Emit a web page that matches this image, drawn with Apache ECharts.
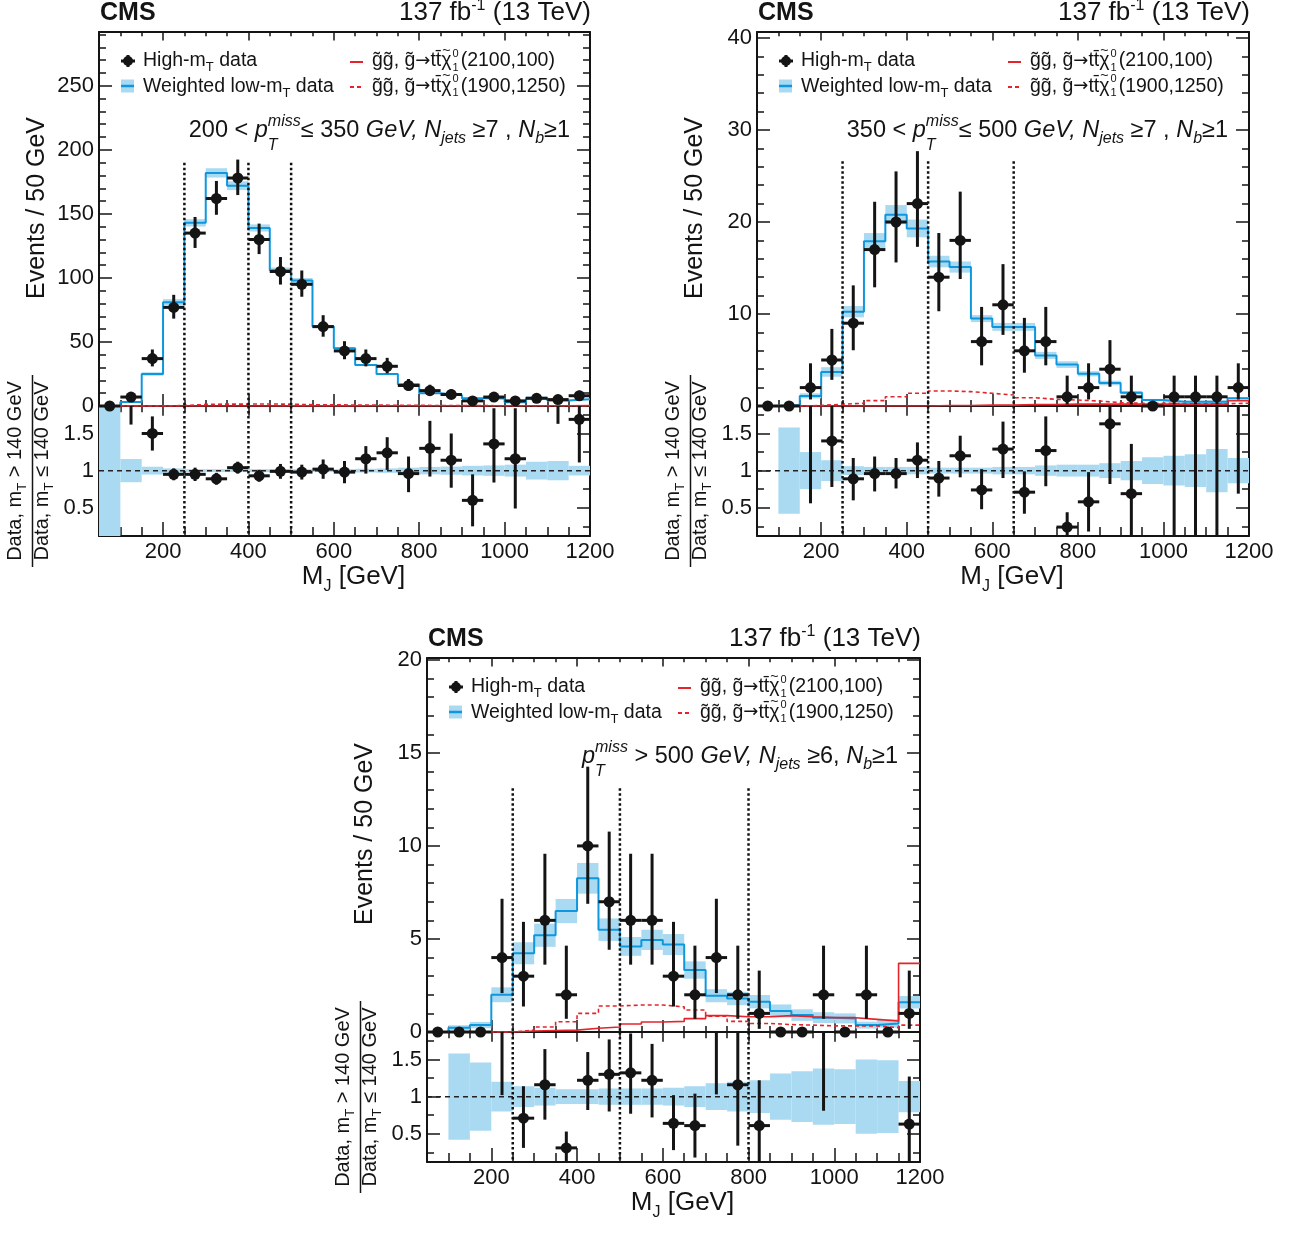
<!DOCTYPE html>
<html><head><meta charset="utf-8">
<script src="https://cdn.jsdelivr.net/npm/echarts@6/dist/echarts.min.js"></script>
<style>html,body{margin:0;padding:0;background:#fff}#c{width:1293px;height:1234px}</style>
</head><body><div id="c"></div>
<script>
// ---------------- DATA ----------------
const binLow = [50,100,150,200,250,300,350,400,450,500,550,600,650,700,750,800,850,900,950,1000,1050,1100,1150];
const binWidth = 50;
const xMajor = [200,400,600,800,1000,1200];
const xMinor = [50,100,150,200,250,300,350,400,450,500,550,600,650,700,750,800,850,900,950,1000,1050,1100,1150,1200];
const ratioMajor = [0.5,1,1.5];
const ratioMinor = [0.25,0.5,0.75,1,1.25,1.5,1.75];

// Panel A: 200 < pTmiss <= 350, Njets>=7
const yMajorA = [0,50,100,150,200,250];
const yMinorA = [0,10,20,30,40,50,60,70,80,90,100,110,120,130,140,150,160,170,180,190,200,210,220,230,240,250,260,270,280,290];
const dataA   = [0,7,37,77,135,162,178,130,105,95,62,43,37,31,16,12,9,4,7,4,6,5,8];
const dataLoA = [0,2.58,6.06,8.76,11.6,12.7,13.3,11.4,10.2,9.7,7.9,6.5,6.06,5.5,3.96,3.4,2.94,1.91,2.58,1.91,2.38,2.16,2.77];
const dataHiA = [0,3.77,7.12,9.8,12.6,13.7,14.4,12.4,11.3,10.8,8.9,7.6,7.12,6.6,5.1,4.6,4.11,3.16,3.77,3.16,3.58,3.38,3.95];
const lowMtA  = [0,3.2,25,81,143,182,172,139,106,98,62,45,32,25,17,10,8.6,6,5.9,3,6.4,4.2,5.2];
const lowMtErrA = [1,0.156,0.053,0.03,0.02,0.02,0.02,0.02,0.02,0.02,0.02,0.02,0.025,0.03,0.04,0.05,0.055,0.065,0.07,0.08,0.12,0.13,0.065];
const sig2100A = [0,0,0,0,0,0,0,0,0.1,0.1,0.1,0.1,0.2,0.2,0.2,0.2,0.2,0.2,0.2,0.2,0.2,0.2,0.3];
const sig1900A = [0,0,0,0.4,1.2,1.5,1.5,1.6,1.4,1.0,0.9,0.8,0.7,0.6,0.5,0.4,0.3,0.3,0.2,0.2,0.2,0.2,0.2];
const ratioA   = [null,2.0,1.50,0.95,0.95,0.89,1.04,0.93,0.99,0.98,1.02,0.98,1.16,1.24,0.96,1.30,1.14,0.60,1.36,1.16,null,2.2,1.69];
const ratioLoA = [0,0.38,0.23,0.08,0.09,0.08,0.08,0.08,0.10,0.10,0.13,0.15,0.20,0.23,0.25,0.38,0.37,0.35,0.52,0.67,0,0.57,0.58];
const ratioHiA = [0,1.0,0.23,0.08,0.09,0.08,0.08,0.08,0.10,0.10,0.13,0.15,0.17,0.21,0.23,0.37,0.36,0.35,0.48,0.68,0,1.0,0.50];
const cutsA = [250,400,500];

// Panel B: 350 < pTmiss <= 500, Njets>=7
const yMajorB = [0,10,20,30,40];
const yMinorB = [0,2,4,6,8,10,12,14,16,18,20,22,24,26,28,30,32,34,36,38,40];
const dataB   = [0,0,2,5,9,17,20,22,14,18,7,11,6,7,1,2,4,1,0,1,1,1,2];
const dataLoB = [0,0,1.29,2.16,2.94,4.1,4.4,4.7,3.7,4.2,2.58,3.27,2.38,2.58,0.83,1.29,1.91,0.83,0,0.83,0.83,0.83,1.29];
const dataHiB = [0,0,2.64,3.38,4.11,5.2,5.5,5.7,4.8,5.3,3.77,4.42,3.58,3.77,2.3,2.64,3.16,2.3,0,2.3,2.3,2.3,2.64];
const lowMtB  = [0,0.1,1.1,3.7,10.25,17.9,20.8,19.3,15.7,15.1,9.5,8.6,8.6,5.5,4.5,3.5,2.5,1.45,0.65,0.47,0.47,0.47,0.83];
const lowMtErrB = [0,0.58,0.25,0.14,0.06,0.05,0.05,0.05,0.04,0.04,0.04,0.05,0.05,0.07,0.08,0.08,0.10,0.13,0.18,0.20,0.22,0.29,0.17];
const sig2100B = [0,0,0,0,0,0,0,0,0.05,0.05,0.1,0.1,0.15,0.15,0.2,0.2,0.2,0.2,0.2,0.2,0.2,0.2,0.57];
const sig1900B = [0,0,0.05,0.2,0.3,0.58,1.0,1.38,1.63,1.56,1.38,1.2,0.9,0.72,0.65,0.54,0.36,0.3,0.3,0.25,0.25,0.25,0.3];
const ratioB   = [null,null,1.9,1.40,0.89,0.96,0.96,1.14,0.90,1.20,0.74,1.29,0.71,1.27,0.24,0.58,1.63,0.69,null,2.1,2.1,2.1,2.4];
const ratioLoB = [0,0,1.34,0.62,0.29,0.24,0.20,0.24,0.25,0.29,0.26,0.39,0.29,0.48,0.20,0.40,0.81,0.58,0,2.0,2.0,2.0,1.71];
const ratioHiB = [0,0,2.6,0.9,0.28,0.23,0.21,0.24,0.23,0.27,0.28,0.37,0.28,0.46,0.20,0.40,0.9,0.67,0,4,4,4,3];
const cutsB = [250,450,650];

// Panel C: pTmiss > 500, Njets>=6
const yMajorC = [0,5,10,15,20];
const yMinorC = [0,1,2,3,4,5,6,7,8,9,10,11,12,13,14,15,16,17,18,19,20];
const dataC   = [0,0,0,4,3,6,2,10,7,6,6,3,2,4,2,1,0,0,2,0,2,0,1];
const dataLoC = [0,0,0,1.91,1.63,2.38,1.29,3.11,2.58,2.38,2.38,1.63,1.29,1.91,1.29,0.83,0,0,1.29,0,1.29,0,0.83];
const dataHiC = [0,0,0,3.16,2.92,3.58,2.64,4.26,3.77,3.58,3.58,2.92,2.64,3.16,2.64,2.3,0,0,2.64,0,2.64,0,2.3];
const lowMtC  = [0,0.23,0.37,2.0,4.23,5.2,6.5,8.26,5.5,4.6,4.95,4.7,3.33,1.95,1.8,1.63,1.13,0.91,0.77,0.73,0.37,0.46,1.6];
const lowMtErrC = [0,0.58,0.46,0.2,0.14,0.12,0.1,0.1,0.11,0.11,0.11,0.12,0.14,0.18,0.2,0.22,0.31,0.34,0.38,0.37,0.5,0.49,0.21];
const sig2100C = [0,0,0,0,0.05,0.08,0.1,0.2,0.27,0.43,0.54,0.57,0.72,0.88,0.82,0.82,0.88,0.82,0.77,0.77,0.68,0.59,3.69];
const sig1900C = [0,0,0,0,0.1,0.27,0.55,1.0,1.4,1.45,1.45,1.35,1.18,0.85,0.57,0.46,0.4,0.37,0.33,0.33,0.33,0.23,0.37];
const ratioC   = [null,null,null,2.0,0.71,1.16,0.31,1.22,1.30,1.32,1.22,0.64,0.61,2.05,1.16,0.61,null,null,2.6,null,null,null,0.63];
const ratioLoC = [0,0,0,0.98,0.40,0.47,0.22,0.40,0.50,0.55,0.50,0.36,0.43,1.02,0.82,0.50,0,0,1.79,0,0,0,0.50];
const ratioHiC = [0,0,0,2,0.43,0.48,0.22,0.38,0.47,0.53,0.49,0.38,0.43,2,0.75,0.61,0,0,3,0,0,0,0.64];
const cutsC = [250,500,800];

// ---------------- STYLE / LAYOUT ----------------
const FONT = '"Liberation Sans", Arial, Helvetica, sans-serif';
const SYMFONT = '"DejaVu Sans", "Liberation Sans", sans-serif';
const INK = '#141414';
const BLUE = '#0f97dd';
const BAND = '#a9daf2';
const RED = '#e3242b';

const CS = 23.5, CSS = 16;
function catPieces(lead, tail){
  const out = [];
  if (lead) out.push({t:lead, s:CS});
  out.push({t:'p',s:CS,it:1},{t:'miss',s:CSS,it:1,dy:-12,adv:false},{t:'T',s:CSS,it:1,dy:12,stack:true});
  return out.concat(tail);
}
function catTail(a, b){
  return [{t:a,s:CS},{t:'GeV, N',s:CS,it:1},{t:'jets',s:CSS,it:1,dy:5},{t:b,s:CS},{t:'N',s:CS,it:1},{t:'b',s:CSS,it:1,dy:5},{t:'≥1',s:CS}];
}
const panels = [
  {left:99, top:32, width:491, mainH:374, ratioH:130, ymax:292, yMajor:yMajorA, yMinor:yMinorA,
   data:dataA, lo:dataLoA, hi:dataHiA, bkg:lowMtA, rel:lowMtErrA, s1:sig2100A, s2:sig1900A,
   ratio:ratioA, rlo:ratioLoA, rhi:ratioHiA, cuts:cutsA, cutTop:190,
   cat:catPieces('200 < ', catTail('≤ 350 ', ' ≥7 , '))},
  {left:757, top:32, width:492, mainH:374, ratioH:130, ymax:40.65, yMajor:yMajorB, yMinor:yMinorB,
   data:dataB, lo:dataLoB, hi:dataHiB, bkg:lowMtB, rel:lowMtErrB, s1:sig2100B, s2:sig1900B,
   ratio:ratioB, rlo:ratioLoB, rhi:ratioHiB, cuts:cutsB, cutTop:26.6,
   cat:catPieces('350 < ', catTail('≤ 500 ', ' ≥7 , '))},
  {left:427, top:658, width:493, mainH:374, ratioH:130, ymax:20.1, yMajor:yMajorC, yMinor:yMinorC,
   data:dataC, lo:dataLoC, hi:dataHiC, bkg:lowMtC, rel:lowMtErrC, s1:sig2100C, s2:sig1900C,
   ratio:ratioC, rlo:ratioLoC, rhi:ratioHiC, cuts:cutsC, cutTop:13.1,
   cat:catPieces(null, catTail(' > 500 ', ' ≥6, '))}
];

// ---------------- TEXT HELPER ----------------
const mctx = document.createElement('canvas').getContext('2d');
function fontStr(p){ return (p.it?'italic ':'') + (p.b?'bold ':'') + p.s + 'px ' + (p.f||FONT); }
function tw(p){ mctx.font = fontStr(p); return mctx.measureText(p.t).width; }
function richText(pieces, x, y, align, rot){
  const ws = pieces.map(tw);
  const adv = pieces.map((p,i)=> (p.adv===false || p.over) ? 0 : (p.stack ? Math.max(ws[i], ws[i-1]) : ws[i]) + (p.sp||0));
  const total = adv.reduce((a,b)=>a+b,0);
  let cx = align==='right' ? -total : (align==='center' ? -total/2 : 0);
  const children = [];
  pieces.forEach((p,i)=>{
    let px = cx + (p.dx||0);
    if (p.over) px = cx + (ws[i+1] - ws[i])/2 + (p.dx||0);
    children.push({type:'text', x:px, y:(p.dy||0) - 0.3465*p.s, silent:true,
      style:{text:p.t, font:fontStr(p), fill:p.c||INK, textAlign:'left', textVerticalAlign:'middle', align:'left', verticalAlign:'middle'}});
    cx += adv[i];
  });
  return {type:'group', x:x, y:y, rotation:rot||0, children:children, silent:true};
}

// ---------------- BUILD ----------------
const grids=[], xAxes=[], yAxes=[], series=[], graphics=[];
const fmt = (v)=>String(v);

function tickAxis(base, pos, vals, len, showLine, labels){
  return Object.assign({}, base, {
    position:pos, splitLine:{show:false},
    axisLine:{show:showLine, onZero:false, lineStyle:{color:INK, width:2}},
    axisTick:{show:true, inside:true, length:len, customValues:vals, lineStyle:{color:INK, width:1.5}},
    axisLabel: labels ? {show:true, customValues:labels.vals, fontSize:22, fontFamily:FONT, color:INK, margin:labels.margin, formatter:fmt} : {show:false}
  });
}
function addX(g, withLabels, maj, minr){
  const base = {gridIndex:g, type:'value', min:50, max:1200};
  const i0 = xAxes.length;
  xAxes.push(tickAxis(base,'bottom',xMajor,maj,true, withLabels?{vals:xMajor, margin:5}:null));
  xAxes.push(tickAxis(base,'bottom',xMinor,minr,false,null));
  xAxes.push(tickAxis(base,'top',xMajor,maj*0.7,true,null));
  xAxes.push(tickAxis(base,'top',xMinor,minr*0.7,false,null));
  return i0;
}
function addY(g, min, max, maj, minr, lmaj, lmin){
  const base = {gridIndex:g, type:'value', min:min, max:max};
  const i0 = yAxes.length;
  yAxes.push(tickAxis(base,'left',maj,lmaj,true,{vals:maj, margin:5}));
  yAxes.push(tickAxis(base,'left',minr,lmin,false,null));
  yAxes.push(tickAxis(base,'right',maj,lmaj,true,null));
  yAxes.push(tickAxis(base,'right',minr,lmin,false,null));
  return i0;
}
function stepData(vals){
  const d = binLow.map((e,i)=>[e, vals[i]]);
  d.push([binLow[binLow.length-1]+binWidth, vals[vals.length-1]]);
  return d;
}
function clampSeg(y1, y2, cs){
  const top = cs.y, bot = cs.y + cs.height;
  const a = Math.max(Math.min(y1,y2), top), b = Math.min(Math.max(y1,y2), bot);
  return a < b ? [a,b] : null;
}
function bandRender(center, rel){
  return function(params, api){
    const i = params.dataIndex;
    const c = typeof center === 'number' ? center : center[i];
    if (!c || !rel[i]) return null;
    const p1 = api.coord([binLow[i], c*(1+rel[i])]);
    const p2 = api.coord([binLow[i]+binWidth, c*(1-rel[i])]);
    const cs = params.coordSys;
    const r = echarts.graphic.clipRectByRect({x:p1[0], y:p1[1], width:p2[0]-p1[0], height:p2[1]-p1[1]},
                                              {x:cs.x, y:cs.y, width:cs.width, height:cs.height});
    if (!r) return null;
    return {type:'rect', shape:r, style:{fill:BAND}};
  };
}
function pointRender(vals, lo, hi, clip){
  return function(params, api){
    const i = params.dataIndex;
    const v = vals[i];
    if (v === null || v === undefined) return null;
    const cs = params.coordSys;
    const pc = api.coord([binLow[i]+binWidth/2, v]);
    const xl = api.coord([binLow[i], v])[0], xr = api.coord([binLow[i]+binWidth, v])[0];
    const yLo = api.coord([binLow[i], v - lo[i]])[1], yHi = api.coord([binLow[i], v + hi[i]])[1];
    const st = {stroke:INK, lineWidth:3};
    const ch = [];
    let seg = [Math.min(yLo,yHi), Math.max(yLo,yHi)];
    if (clip) seg = clampSeg(yLo, yHi, cs);
    if (seg && seg[1]-seg[0] > 0.5) ch.push({type:'line', shape:{x1:pc[0], y1:seg[0], x2:pc[0], y2:seg[1]}, style:st});
    const inside = !clip || (pc[1] >= cs.y && pc[1] <= cs.y + cs.height);
    if (inside){
      ch.push({type:'line', shape:{x1:xl, y1:pc[1], x2:xr, y2:pc[1]}, style:st});
      ch.push({type:'circle', shape:{cx:pc[0], cy:pc[1], r:5.5}, style:{fill:INK}});
    }
    return {type:'group', children:ch};
  };
}
function cutRender(cuts, yTop){
  return function(params, api){
    const c = cuts[params.dataIndex];
    const cs = params.coordSys;
    const x = api.coord([c, 0])[0];
    const y1 = yTop === null ? cs.y : api.coord([c, yTop])[1];
    const y2 = cs.y + cs.height;
    return {type:'line', shape:{x1:x, y1:y1, x2:x, y2:y2}, style:{stroke:'#111', lineWidth:2.5, lineDash:[2.5,2.5]}};
  };
}
const centers = binLow.map((e)=>[e+binWidth/2, 0]);

panels.forEach((P)=>{
  const L = P.left, T = P.top, W = P.width;
  const gM = grids.length; grids.push({left:L, top:T, width:W, height:P.mainH});
  const gR = grids.length; grids.push({left:L, top:T+P.mainH, width:W, height:P.ratioH});
  const xm = addX(gM, false, 12, 6);
  const xr = addX(gR, true, 14, 9);
  const ym = addY(gM, 0, P.ymax, P.yMajor, P.yMinor, 13, 7);
  const yr = addY(gR, 0.12, 1.87, ratioMajor, ratioMinor, 13, 7);
  const M = {xAxisIndex:xm, yAxisIndex:ym}, R = {xAxisIndex:xr, yAxisIndex:yr};

  // main
  series.push(Object.assign({type:'custom', z:1, silent:true, data:centers, renderItem:bandRender(P.bkg, P.rel)}, M));
  series.push(Object.assign({type:'line', z:2, step:'end', showSymbol:false, silent:true, data:stepData(P.bkg), lineStyle:{color:BLUE, width:2}}, M));
  series.push(Object.assign({type:'line', z:3, step:'end', showSymbol:false, silent:true, data:stepData(P.s1), lineStyle:{color:RED, width:1.6}}, M));
  series.push(Object.assign({type:'line', z:3, step:'end', showSymbol:false, silent:true, data:stepData(P.s2), lineStyle:{color:RED, width:1.6, type:[4,3]}}, M));
  series.push(Object.assign({type:'custom', z:4, silent:true, data:P.cuts.map(c=>[c,0]), renderItem:cutRender(P.cuts, P.cutTop)}, M));
  series.push(Object.assign({type:'custom', z:6, silent:true, data:centers, renderItem:pointRender(P.data, P.lo, P.hi, false)}, M));
  // ratio
  series.push(Object.assign({type:'custom', z:1, silent:true, data:centers, renderItem:bandRender(1, P.rel)}, R));
  series.push(Object.assign({type:'line', z:3, showSymbol:false, silent:true, data:[[50,1],[1200,1]], lineStyle:{color:'#222', width:1.5, type:[5,4]}}, R));
  series.push(Object.assign({type:'custom', z:4, silent:true, data:P.cuts.map(c=>[c,1]), renderItem:cutRender(P.cuts, null)}, R));
  series.push(Object.assign({type:'custom', z:5, silent:true, data:centers, renderItem:pointRender(P.ratio, P.rlo, P.rhi, true)}, R));

  // header
  graphics.push(richText([{t:'CMS', s:25, b:1}], L+1, T-10, 'left'));
  graphics.push(richText([{t:'137 fb',s:26},{t:'-1',s:16,dy:-11},{t:' (13 TeV)',s:26}], L+W+1, T-10, 'right'));
  // legend
  const r1 = T+29, r2 = T+54;
  graphics.push({type:'line', shape:{x1:L+22, y1:r1, x2:L+36, y2:r1}, style:{stroke:INK, lineWidth:3}, silent:true});
  graphics.push({type:'line', shape:{x1:L+29, y1:r1-6, x2:L+29, y2:r1+6}, style:{stroke:INK, lineWidth:3}, silent:true});
  graphics.push({type:'circle', shape:{cx:L+29, cy:r1, r:5}, style:{fill:INK}, silent:true});
  graphics.push(richText([{t:'High-m',s:19.5},{t:'T',s:13,dy:4.5},{t:' data',s:19.5}], L+44, T+35.5, 'left'));
  graphics.push({type:'rect', shape:{x:L+22, y:r2-6.5, width:13, height:13}, style:{fill:BAND}, silent:true});
  graphics.push({type:'line', shape:{x1:L+22, y1:r2, x2:L+35, y2:r2}, style:{stroke:BLUE, lineWidth:2.5}, silent:true});
  graphics.push(richText([{t:'Weighted low-m',s:19.5},{t:'T',s:13,dy:4.5},{t:' data',s:19.5}], L+44, T+61, 'left'));
  graphics.push({type:'line', shape:{x1:L+251, y1:r1+1, x2:L+264, y2:r1+1}, style:{stroke:RED, lineWidth:2}, silent:true});
  graphics.push({type:'line', shape:{x1:L+251, y1:r2+1, x2:L+264, y2:r2+1}, style:{stroke:RED, lineWidth:2, lineDash:[4,3]}, silent:true});
  const sigTxt = (m)=>[{t:'g̃g̃, g̃',s:19.5},{t:'→',s:18,f:SYMFONT},{t:'tt̄',s:19.5},
                       {t:'~',s:14,dy:-12,over:true},{t:'χ',s:19.5,sp:1},
                       {t:'0',s:11,dy:-10,adv:false},{t:'1',s:11,dy:4,stack:true,sp:2},{t:m,s:19.5}];
  graphics.push(richText(sigTxt('(2100,100)'), L+273, T+35.5, 'left'));
  graphics.push(richText(sigTxt('(1900,1250)'), L+273, T+61, 'left'));
  // category text
  graphics.push(richText(P.cat, L+471, T+107, 'right'));
  // axis titles
  graphics.push(richText([{t:'Events / 50 GeV', s:25}], L-53, T+176, 'center', Math.PI/2));
  const rc = T + P.mainH + P.ratioH/2;
  graphics.push({type:'group', x:L-77, y:rc, rotation:Math.PI/2, silent:true, children:[
    richText([{t:'Data, m',s:20},{t:'T',s:13,dy:4.5},{t:' > 140 GeV',s:20}], 0, 0, 'center'),
    richText([{t:'Data, m',s:20},{t:'T',s:13,dy:4.5},{t:' ≤ 140 GeV',s:20}], 0, 27.5, 'center'),
    {type:'line', shape:{x1:-96, y1:10.5, x2:96, y2:10.5}, style:{stroke:INK, lineWidth:1.5}}
  ]});
  graphics.push(richText([{t:'M',s:26},{t:'J',s:16,dy:6},{t:' [GeV]',s:26}], L+W/2+9, T+P.mainH+P.ratioH+50, 'center'));
});

const chart = echarts.init(document.getElementById('c'), null, {renderer:'canvas'});
chart.setOption({
  backgroundColor:'#fff', animation:false,
  grid:grids, xAxis:xAxes, yAxis:yAxes, series:series,
  graphic:{elements:graphics}
});
</script></body></html>
